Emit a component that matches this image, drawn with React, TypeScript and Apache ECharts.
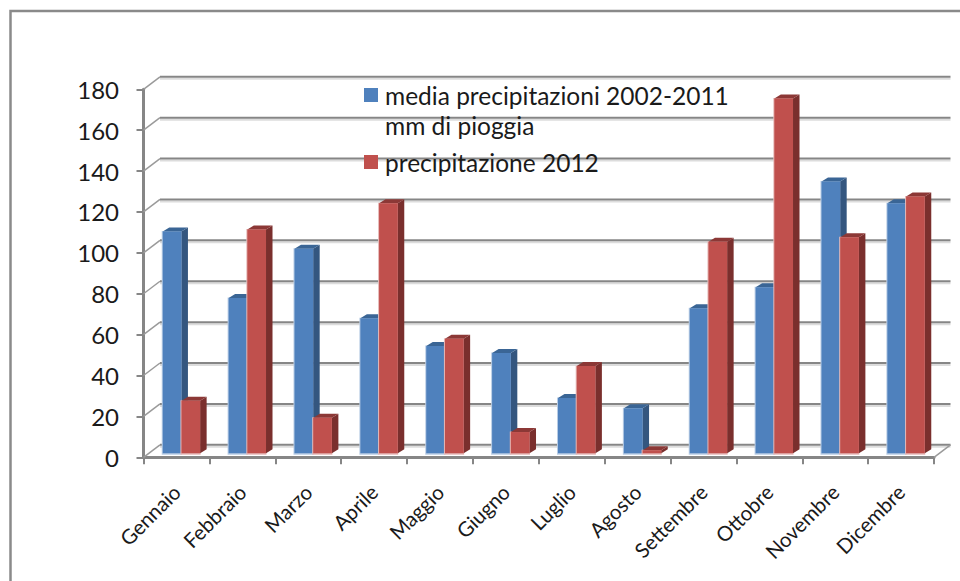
import React, { useEffect, useRef } from "react";
import * as echarts from "echarts";

const months = ["Gennaio", "Febbraio", "Marzo", "Aprile", "Maggio", "Giugno", "Luglio", "Agosto", "Settembre", "Ottobre", "Novembre", "Dicembre"];
const media = [108.5, 76, 100, 66, 52.5, 49, 27, 22, 71, 81.2, 133, 122.3];
const prec2012 = [25.7, 109.5, 17.4, 122.3, 56, 10.4, 42.7, 1.5, 103.5, 173.5, 105.7, 125.6];
const yTicks = [0, 20, 40, 60, 80, 100, 120, 140, 160, 180];
const nameMedia = "media precipitazioni 2002-2011";
const nameMediaLine2 = "mm di pioggia";
const name2012 = "precipitazione 2012";

const FONT = "Lato, 'Open Sans', sans-serif";
const GRID = "#868686";
const INK = "#1a1a1a";
const DX = 16.5;
const DY = 12.5;

function barRenderer(side: number, front: string, sideColor: string, topColor: string, halo: string) {
  return (params: any, api: any) => {
    const idx = api.value(0);
    const top = api.coord([idx, api.value(1)]);
    const base = api.coord([idx, 0]);
    const w = 18.7;
    const x = top[0] + 5 + (side < 0 ? -w : 0);
    const yT = top[1] - 4;
    const yB = base[1] - 4;
    const sx = 6.5;
    const sy = 4;
    return {
      type: "group",
      children: [
        { type: "rect", shape: { x: x - 1, y: yT - 0.5, width: w + 1.5, height: yB - yT + 2 }, style: { fill: halo }, silent: true },
        { type: "polygon", shape: { points: [[x + w, yT], [x + w + sx, yT - sy], [x + w + sx, yB - sy], [x + w, yB]] }, style: { fill: sideColor } },
        { type: "polygon", shape: { points: [[x, yT], [x + sx, yT - sy], [x + w + sx, yT - sy], [x + w, yT]] }, style: { fill: topColor } },
        { type: "rect", shape: { x, y: yT, width: w, height: yB - yT }, style: { fill: front } },
      ],
    };
  };
}

function wallRenderer(params: any, api: any) {
  const cs = params.coordSys;
  const p = api.coord([0, api.value(1)]);
  const y = p[1];
  const x0 = cs.x;
  const x1 = cs.x + cs.width;
  const isFloor = api.value(1) === 0;
  const children: any[] = [
    { type: "line", shape: { x1: x0 + DX, y1: y - DY + 2, x2: x1 + DX, y2: y - DY + 2 }, style: { stroke: "#dcdcdc", lineWidth: 2 } },
    { type: "line", shape: { x1: x0 + DX, y1: y - DY, x2: x1 + DX, y2: y - DY }, style: { stroke: GRID, lineWidth: 2 } },
    { type: "line", shape: { x1: x0, y1: y, x2: x0 + DX, y2: y - DY }, style: { stroke: "#9a9a9a", lineWidth: 1.5 } },
  ];
  if (isFloor) {
    children.push({ type: "line", shape: { x1: x1, y1: y, x2: x1 + DX, y2: y - DY }, style: { stroke: "#9a9a9a", lineWidth: 1.5 } });
  }
  return { type: "group", children };
}

export default function App() {
  const ref = useRef<HTMLDivElement>(null);
  useEffect(() => {
    const chart = echarts.init(ref.current!, undefined, { renderer: "svg" });
    chart.setOption({
      animation: false,
      backgroundColor: "#ffffff",
      textStyle: { fontFamily: FONT },
      grid: { left: 143.5, top: 89.3, width: 790.5, height: 368 },
      legend: {
        orient: "vertical",
        left: 359,
        top: 75,
        itemWidth: 14,
        itemHeight: 14,
        itemGap: 37,
        icon: "rect",
        data: [nameMedia, name2012],
        textStyle: { fontFamily: FONT, fontSize: 24.5, color: INK, padding: [0, 0, 0, 2], lineHeight: 30 },
      },
      xAxis: {
        type: "category",
        data: months,
        boundaryGap: true,
        axisLine: { lineStyle: { color: GRID, width: 3 } },
        axisTick: { show: true, length: 7, alignWithLabel: false, lineStyle: { color: GRID, width: 2 } },
        axisLabel: { rotate: 45, fontFamily: FONT, fontSize: 20.5, color: INK, margin: 31, interval: 0 },
      },
      yAxis: {
        type: "value",
        min: 0,
        max: 180,
        interval: 20,
        splitLine: { show: false },
        axisLine: { show: true, lineStyle: { color: GRID, width: 3 } },
        axisTick: { show: true, length: 7, lineStyle: { color: GRID, width: 2 } },
        axisLabel: { fontFamily: FONT, fontSize: 24, color: INK, margin: 24.5 },
      },
      series: [
        {
          name: "griglia",
          type: "custom",
          coordinateSystem: "cartesian2d",
          renderItem: wallRenderer,
          data: yTicks.map((v) => [0, v]),
          silent: true,
          clip: false,
          z: 1,
        },
        {
          name: nameMedia,
          type: "custom",
          coordinateSystem: "cartesian2d",
          renderItem: barRenderer(-1, "#4F81BD", "#34567F", "#3A6595", "#B9CDE5"),
          data: media.map((v, i) => [i, v]),
          encode: { x: 0, y: 1 },
          itemStyle: { color: "#4F81BD" },
          clip: false,
          z: 3,
        },
        {
          name: name2012,
          type: "custom",
          coordinateSystem: "cartesian2d",
          renderItem: barRenderer(1, "#C0504D", "#7A2F2D", "#8C3836", "#E6B9B8"),
          data: prec2012.map((v, i) => [i, v]),
          encode: { x: 0, y: 1 },
          itemStyle: { color: "#C0504D" },
          clip: false,
          z: 4,
        },
      ],
      graphic: [
        {
          type: "polyline",
          z: 0,
          silent: true,
          shape: { points: [[10.5, 581], [10.5, 11], [960, 11]] },
          style: { stroke: "#8a8a8a", lineWidth: 2.5, fill: "none" },
        },
        {
          type: "text",
          x: 385,
          y: 113,
          z: 10,
          silent: true,
          style: { text: nameMediaLine2, fontFamily: FONT, fontSize: 24.5, fill: INK },
        },
      ],
    });
    return () => chart.dispose();
  }, []);
  return <div ref={ref} style={{ position: "fixed", left: 0, top: 0, width: 960, height: 581 }} />;
}
